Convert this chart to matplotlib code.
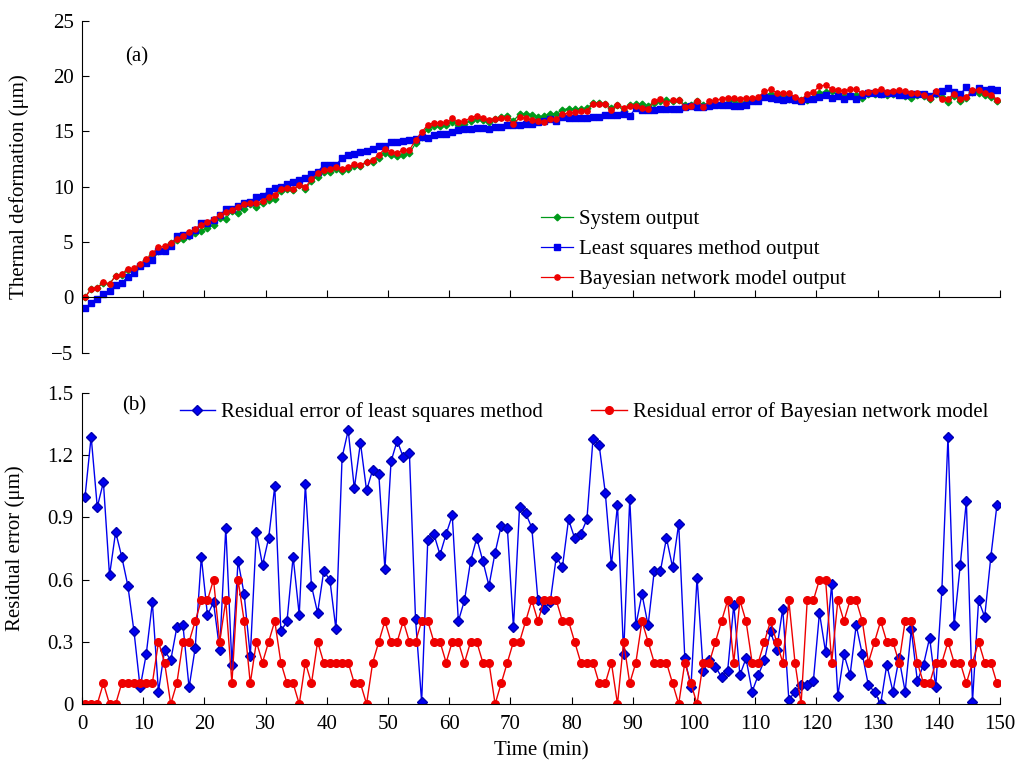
import numpy as np
import matplotlib
matplotlib.use("Agg")
import matplotlib.pyplot as plt

plt.rcParams['font.family'] = ['Liberation Serif', 'DejaVu Serif']
plt.rcParams['font.size'] = 15

# time stamps (one sample per minute)
time_min = np.arange(150) + 0.5

# (a) thermal deformation, um
system_output = [
    0.0, 0.74, 0.83, 1.32, 1.18, 1.95, 2.0, 2.44, 2.5, 2.9,
    3.33, 3.86, 4.2, 4.4, 4.88, 5.17, 5.26, 5.56, 5.8, 6.0,
    6.3, 6.5, 7.13, 7.1, 7.8, 7.6, 8.0, 8.4, 8.2, 8.5,
    8.8, 8.85, 9.6, 9.8, 9.7, 10.15, 9.75, 10.55, 10.9, 11.3,
    11.35, 11.6, 11.4, 11.55, 11.9, 11.85, 12.2, 12.25, 12.6, 13.0,
    12.85, 12.75, 12.9, 13.0, 13.9, 14.5, 15.2, 15.45, 15.45, 15.6,
    15.86, 15.56, 15.7, 15.94, 16.1, 16.0, 15.8, 16.13, 16.26, 16.4,
    15.95, 16.55, 16.6, 16.5, 16.33, 16.36, 16.6, 16.6, 16.95, 17.05,
    17.02, 17.0, 17.08, 17.55, 17.55, 17.5, 17.1, 17.42, 16.8, 17.4,
    17.45, 17.5, 17.3, 17.56, 17.7, 17.8, 17.7, 17.85, 17.4, 17.35,
    17.78, 17.4, 17.5, 17.52, 17.53, 17.55, 17.8, 17.45, 17.62, 17.8,
    17.9, 18.3, 18.4, 18.2, 18.28, 17.92, 17.92, 17.85, 17.85, 18.05,
    18.5, 18.57, 18.6, 18.27, 18.2, 18.3, 18.3, 18.02, 18.37, 18.38,
    18.41, 18.25, 18.38, 18.5, 18.2, 18.02, 18.3, 18.17, 17.9, 18.4,
    18.08, 17.65, 18.2, 17.7, 18.0, 18.55, 18.45, 18.3, 18.12, 17.75,
]
ls_output = [
    -1.0, -0.55, -0.12, 0.25, 0.56, 1.12, 1.29, 1.87, 2.15, 2.82,
    3.09, 3.37, 4.14, 4.14, 4.67, 5.54, 5.64, 5.64, 6.07, 6.71,
    6.73, 6.99, 7.39, 7.95, 7.99, 8.29, 8.53, 8.63, 9.03, 9.17,
    9.6, 9.9, 9.95, 10.2, 10.41, 10.58, 10.81, 11.12, 11.34, 11.94,
    11.95, 11.96, 12.59, 12.87, 12.94, 13.11, 13.23, 13.38, 13.71, 13.65,
    14.02, 14.02, 14.09, 14.21, 14.31, 14.51, 14.41, 14.63, 14.73, 14.78,
    14.95, 15.16, 15.2, 15.25, 15.3, 15.31, 15.23, 15.4, 15.4, 15.55,
    15.58, 15.6, 15.68, 15.65, 15.83, 15.9, 16.11, 15.89, 16.29, 16.16,
    16.22, 16.18, 16.19, 16.27, 16.3, 16.48, 16.43, 16.46, 16.56, 16.41,
    17.07, 16.97, 16.92, 16.92, 17.06, 17.0, 17.04, 16.98, 17.18, 17.27,
    17.17, 17.24, 17.29, 17.34, 17.4, 17.39, 17.32, 17.31, 17.4, 17.74,
    17.76, 18.09, 18.05, 17.94, 17.82, 17.9, 17.86, 17.76, 17.94, 17.94,
    18.06, 18.32, 18.02, 18.23, 17.96, 18.16, 17.92, 18.26, 18.46, 18.44,
    18.41, 18.44, 18.44, 18.28, 18.26, 18.38, 18.41, 18.36, 18.22, 18.48,
    18.63, 18.94, 18.58, 18.37, 18.98, 18.56, 18.95, 18.72, 18.83, 18.71,
]
bn_output = [
    0.0, 0.74, 0.83, 1.42, 1.18, 1.95, 2.1, 2.54, 2.6, 3.0,
    3.43, 3.96, 4.5, 4.6, 4.88, 5.27, 5.56, 5.86, 6.2, 6.5,
    6.8, 7.1, 7.43, 7.7, 7.9, 8.2, 8.4, 8.5, 8.5, 8.7,
    9.1, 9.25, 9.8, 9.9, 9.8, 10.15, 9.95, 10.65, 11.2, 11.5,
    11.55, 11.8, 11.6, 11.75, 12.0, 11.95, 12.2, 12.45, 12.9, 13.4,
    13.15, 13.05, 13.3, 13.3, 14.2, 14.9, 15.6, 15.75, 15.75, 15.8,
    16.16, 15.86, 15.9, 16.24, 16.4, 16.2, 16.0, 16.13, 16.16, 16.2,
    15.65, 16.25, 16.2, 16.0, 15.93, 15.86, 16.1, 16.1, 16.55, 16.65,
    16.72, 16.8, 16.88, 17.5, 17.5, 17.45, 16.9, 17.42, 17.1, 17.3,
    17.25, 17.1, 17.0, 17.76, 17.9, 17.6, 17.8, 17.85, 17.2, 17.25,
    17.78, 17.2, 17.7, 17.82, 17.93, 18.05, 18.0, 17.95, 18.02, 18.0,
    18.1, 18.6, 18.8, 18.5, 18.48, 18.42, 18.12, 17.85, 18.35, 18.55,
    19.1, 19.17, 18.8, 18.77, 18.6, 18.8, 18.8, 18.42, 18.57, 18.68,
    18.81, 18.55, 18.68, 18.7, 18.6, 18.42, 18.5, 18.27, 18.0, 18.6,
    17.88, 17.95, 18.4, 17.9, 18.1, 18.75, 18.75, 18.5, 18.32, 17.85,
]

# (b) residual errors, um
ls_residual = [
    1.00, 1.29, 0.95, 1.07, 0.62, 0.83, 0.71, 0.57, 0.35, 0.08,
    0.24, 0.49, 0.06, 0.26, 0.21, 0.37, 0.38, 0.08, 0.27, 0.71,
    0.43, 0.49, 0.26, 0.85, 0.19, 0.69, 0.53, 0.23, 0.83, 0.67,
    0.80, 1.05, 0.35, 0.40, 0.71, 0.43, 1.06, 0.57, 0.44, 0.64,
    0.60, 0.36, 1.19, 1.32, 1.04, 1.26, 1.03, 1.13, 1.11, 0.65,
    1.17, 1.27, 1.19, 1.21, 0.41, 0.01, 0.79, 0.82, 0.72, 0.82,
    0.91, 0.40, 0.50, 0.69, 0.80, 0.69, 0.57, 0.73, 0.86, 0.85,
    0.37, 0.95, 0.92, 0.85, 0.50, 0.46, 0.49, 0.71, 0.66, 0.89,
    0.80, 0.82, 0.89, 1.28, 1.25, 1.02, 0.67, 0.96, 0.24, 0.99,
    0.38, 0.53, 0.38, 0.64, 0.64, 0.80, 0.66, 0.87, 0.22, 0.08,
    0.61, 0.16, 0.21, 0.18, 0.13, 0.16, 0.48, 0.14, 0.22, 0.06,
    0.14, 0.21, 0.35, 0.26, 0.46, 0.02, 0.06, 0.09, 0.09, 0.11,
    0.44, 0.25, 0.58, 0.04, 0.24, 0.14, 0.38, 0.24, 0.09, 0.06,
    0.00, 0.19, 0.06, 0.22, 0.06, 0.36, 0.11, 0.19, 0.32, 0.08,
    0.55, 1.29, 0.38, 0.67, 0.98, 0.01, 0.50, 0.42, 0.71, 0.96,
]
bn_residual = [
    0.0, 0.0, 0.0, 0.1, 0.0, 0.0, 0.1, 0.1, 0.1, 0.1,
    0.1, 0.1, 0.3, 0.2, 0.0, 0.1, 0.3, 0.3, 0.4, 0.5,
    0.5, 0.6, 0.3, 0.5, 0.1, 0.6, 0.4, 0.1, 0.3, 0.2,
    0.3, 0.4, 0.2, 0.1, 0.1, 0.0, 0.2, 0.1, 0.3, 0.2,
    0.2, 0.2, 0.2, 0.2, 0.1, 0.1, 0.0, 0.2, 0.3, 0.4,
    0.3, 0.3, 0.4, 0.3, 0.3, 0.4, 0.4, 0.3, 0.3, 0.2,
    0.3, 0.3, 0.2, 0.3, 0.3, 0.2, 0.2, 0.0, 0.1, 0.2,
    0.3, 0.3, 0.4, 0.5, 0.4, 0.5, 0.5, 0.5, 0.4, 0.4,
    0.3, 0.2, 0.2, 0.2, 0.1, 0.1, 0.2, 0.0, 0.3, 0.1,
    0.2, 0.4, 0.3, 0.2, 0.2, 0.2, 0.1, 0.0, 0.2, 0.1,
    0.0, 0.2, 0.2, 0.3, 0.4, 0.5, 0.2, 0.5, 0.4, 0.2,
    0.2, 0.3, 0.4, 0.3, 0.2, 0.5, 0.2, 0.0, 0.5, 0.5,
    0.6, 0.6, 0.2, 0.5, 0.4, 0.5, 0.5, 0.4, 0.2, 0.3,
    0.4, 0.3, 0.3, 0.2, 0.4, 0.4, 0.2, 0.1, 0.1, 0.2,
    0.2, 0.3, 0.2, 0.2, 0.1, 0.2, 0.3, 0.2, 0.2, 0.1,
]

green = '#009a1a'
blue = '#0000ee'
red = '#ee0000'

fig = plt.figure(figsize=(10.17, 7.67), dpi=100)
ax1 = fig.add_axes([0.0806, 0.5404, 0.9027, 0.4326])
ax2 = fig.add_axes([0.0806, 0.0821, 0.9027, 0.4055])

# ---- (a) ----
ax1.plot(time_min, system_output, '-', color=green, marker='D', ms=3.4, lw=0.9,
         label='System output')
ax1.plot(time_min, ls_output, '-', color=blue, marker='s', ms=3.8, lw=0.9,
         label='Least squares method output')
ax1.plot(time_min, bn_output, '-', color=red, marker='o', ms=3.8, lw=0.9,
         label='Bayesian network model output')
ax1.set_xlim(0, 150)
ax1.set_ylim(-5, 25)
ax1.set_yticks([-5, 0, 5, 10, 15, 20, 25])
ax1.set_xticks(np.arange(0, 151, 10))
ax1.tick_params(axis='x', labelbottom=False, direction='in', length=5)
ax1.tick_params(axis='y', direction='in', length=5, pad=6)
ax1.spines['top'].set_visible(False)
ax1.spines['right'].set_visible(False)
ax1.spines['bottom'].set_position(('data', 0))
ax1.set_ylabel('Thermal deformation (μm)')
ax1.text(9, 21.7, '(a)', ha='center', va='center')
ax1.legend(loc='upper left', bbox_to_anchor=(0.48, 0.487), frameon=False,
           handlelength=1.5, handletextpad=0.3, labelspacing=0.5)

# ---- (b) ----
ax2.plot(time_min, ls_residual, '-', color=blue, marker='D', ms=5, lw=1.0,
         mec='#0000b0', label='Residual error of least squares method')
ax2.plot(time_min, bn_residual, '-', color=red, marker='o', ms=5.5, lw=1.0,
         label='Residual error of Bayesian network model')
ax2.set_xlim(0, 150)
ax2.set_ylim(0, 1.5)
ax2.set_yticks([0, 0.3, 0.6, 0.9, 1.2, 1.5])
ax2.set_yticklabels(['0', '0.3', '0.6', '0.9', '1.2', '1.5'])
ax2.set_xticks(np.arange(0, 151, 10))
ax2.tick_params(direction='in', length=5, pad=6)
ax2.tick_params(axis='x', pad=8)
ax2.spines['top'].set_visible(False)
ax2.spines['right'].set_visible(False)
ax2.set_xlabel('Time (min)', labelpad=5)
ax2.set_ylabel('Residual error (μm)')
ax2.text(8.5, 1.44, '(b)', ha='center', va='center')
ax2.legend(loc='upper left', bbox_to_anchor=(0.086, 1.03), ncol=2, frameon=False,
           handlelength=1.7, handletextpad=0.3, columnspacing=2.3)

ax1.yaxis.set_label_coords(-0.058, 0.5)
ax2.yaxis.set_label_coords(-0.062, 0.5)

fig.savefig('out.png', dpi=100)
